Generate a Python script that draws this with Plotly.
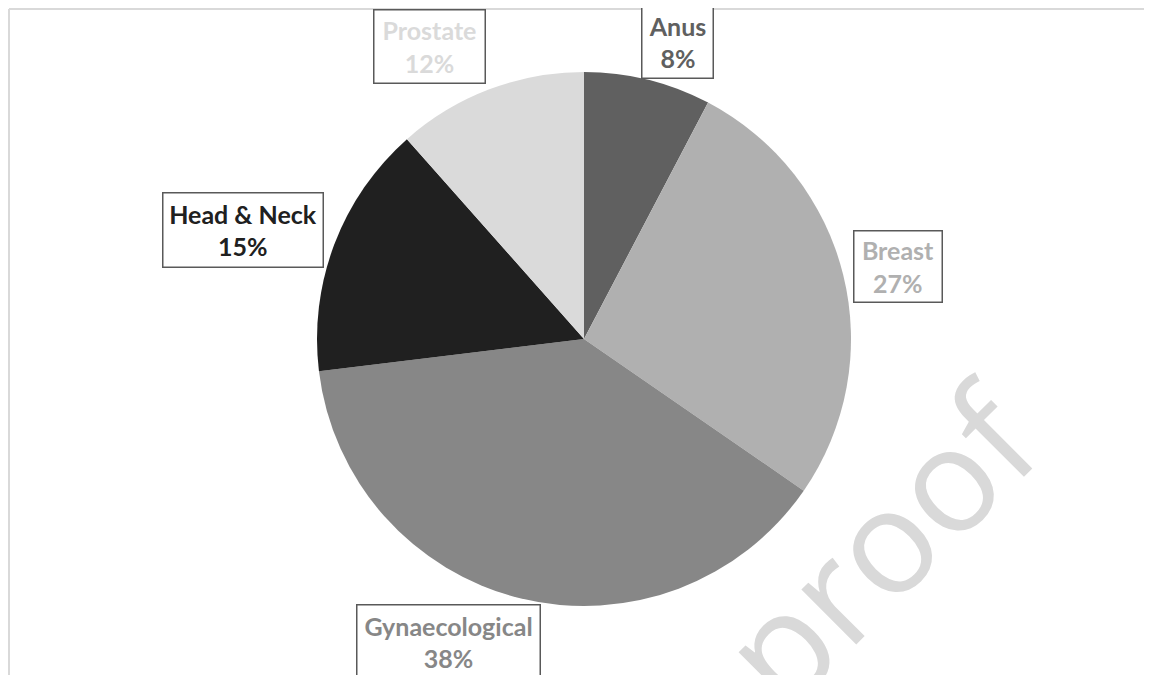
import plotly.graph_objects as go

OFF = 8                      # page body margin
W, H = 1152 - OFF, 675 - OFF

categories = ["Anus", "Breast", "Gynaecological", "Head & Neck", "Prostate"]
counts = [2, 7, 10, 4, 3]
pct_labels = ["8%", "27%", "38%", "15%", "12%"]
slice_colors = ["#606060", "#b0b0b0", "#878787", "#202020", "#dadada"]

# label box centres (screen pixels) and sizes
box_cx = [677, 898, 448, 243, 429]
box_cy = [42, 266, 642, 230, 46]
box_w = [70, 87, 182, 159, 110]
box_h = [71, 70, 73, 73, 72]

cx, cy, r = 584, 339, 267


def px(x):
    return (x - OFF) / W


def py(y):
    return 1 - (y - OFF) / H


fig = go.Figure()
fig.add_trace(go.Pie(
    labels=categories,
    values=counts,
    sort=False,
    direction="clockwise",
    rotation=0,
    marker=dict(colors=slice_colors, line=dict(width=0)),
    textinfo="none",
    hoverinfo="label+percent",
    showlegend=False,
    domain=dict(x=[px(cx - r), px(cx + r)], y=[py(cy + r), py(cy - r)]),
))

for name, p, col, bx, by, bw, bh in zip(categories, pct_labels, slice_colors,
                                          box_cx, box_cy, box_w, box_h):
    fig.add_annotation(
        x=px(bx), y=py(by), xref="paper", yref="paper",
        xanchor="center", yanchor="middle",
        text=f"<b>{name}<br>{p}</b>",
        showarrow=False,
        font=dict(family="Lato", size=25, color=col),
        bordercolor="#595959", borderwidth=1.5, borderpad=0,
        bgcolor="white",
        width=bw, height=bh, align="center",
    )

# watermark
fig.add_annotation(
    x=px(878), y=py(542), xref="paper", yref="paper",
    xanchor="center", yanchor="middle",
    text="proof", showarrow=False, textangle=-45,
    font=dict(family="Open Sans", size=145, color="#d9d9d9"),
)

# frame lines of the document box
fig.add_shape(type="line", xref="paper", yref="paper",
              x0=px(OFF + 1), y0=py(OFF + 1), x1=1, y1=py(OFF + 1),
              line=dict(color="#d9d9d9", width=2))
fig.add_shape(type="line", xref="paper", yref="paper",
              x0=px(OFF + 1), y0=py(OFF + 1), x1=px(OFF + 1), y1=0,
              line=dict(color="#d9d9d9", width=2))

fig.update_layout(
    width=W, height=H,
    margin=dict(l=0, r=0, t=0, b=0),
    paper_bgcolor="white", plot_bgcolor="white",
)

fig.write_html("out.html")
